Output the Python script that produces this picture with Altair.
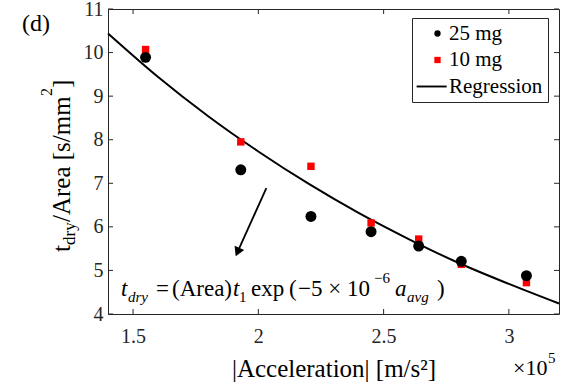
import altair as alt
import pandas as pd

FONT = "Liberation Serif"
AX = "#262626"

# ---- data ----
accel = [1.55, 1.93, 2.21, 2.45, 2.64, 2.81, 3.07]          # x 10^5 m/s^2
t_25mg = [9.89, 7.31, 6.24, 5.89, 5.56, 5.21, 4.88]
t_10mg = [10.07, 7.95, 7.39, 6.09, 5.72, 5.14, 4.72]
reg_x = [1.4, 1.6, 1.8, 2.0, 2.2, 2.4, 2.6, 2.8, 3.0, 3.2]
reg_y = [10.44, 9.44, 8.54, 7.73, 6.99, 6.32, 5.72, 5.17, 4.69, 4.24]
x_ticks = [1.5, 2, 2.5, 3]
y_ticks = [4, 5, 6, 7, 8, 9, 10, 11]
series = ["25 mg", "10 mg", "Regression"]

W, H = 451, 305
OX, OY = 108, 9   # plot origin on the page

xs = alt.Scale(domain=[1.4, 3.2], nice=False, zero=False)
ys = alt.Scale(domain=[4, 11], nice=False, zero=False)

df25 = pd.DataFrame({"a": accel, "t": t_25mg, "series": "25 mg"})
df10 = pd.DataFrame({"a": accel, "t": t_10mg, "series": "10 mg"})
dreg = pd.DataFrame({"a": reg_x, "t": reg_y})

legend = alt.Legend(
    title=None, orient="none", legendX=412 - OX, legendY=18 - OY,
    fillColor="white", strokeColor=AX, padding=5, symbolOffset=10,
    labelOffset=1, labelFont=FONT, labelFontSize=21, labelColor="black",
    symbolSize=40, rowPadding=4.5, symbolStrokeWidth=0,
)
color = alt.Color("series:N", scale=alt.Scale(domain=series, range=["black", "red", "black"]), legend=legend)
shape = alt.Shape("series:N", scale=alt.Scale(domain=series, range=["circle", "square", "M-6.6,-0.3H2.9V0.3H-6.6Z"]), legend=legend)

xenc = alt.X("a:Q", scale=xs, axis=alt.Axis(values=x_ticks, format="~g", title="|Acceleration| [m/s²]"))
yenc = alt.Y("t:Q", scale=ys, axis=alt.Axis(values=y_ticks, format="~g", title=None))

reg = alt.Chart(dreg).mark_line(color="black", strokeWidth=2, interpolate="monotone").encode(x=xenc, y=yenc)
pts10 = alt.Chart(df10).mark_point(filled=True, opacity=1, size=55).encode(x=xenc, y=yenc, color=color, shape=shape)
pts25 = alt.Chart(df25).mark_point(filled=True, opacity=1, size=120).encode(x=xenc, y=yenc, color=color, shape=shape)

# inward ticks on all four sides
dxt = pd.DataFrame({"v": x_ticks})
dyt = pd.DataFrame({"v": y_ticks})
tick_b = alt.Chart(dxt).mark_rule(color=AX).encode(x=alt.X("v:Q", scale=xs), y=alt.value(H), y2=alt.value(H - 5))
tick_t = alt.Chart(dxt).mark_rule(color=AX).encode(x=alt.X("v:Q", scale=xs), y=alt.value(0), y2=alt.value(5))
tick_l = alt.Chart(dyt).mark_rule(color=AX).encode(y=alt.Y("v:Q", scale=ys), x=alt.value(0), x2=alt.value(5))
tick_r = alt.Chart(dyt).mark_rule(color=AX).encode(y=alt.Y("v:Q", scale=ys), x=alt.value(W), x2=alt.value(W - 5))

one = pd.DataFrame({"k": [0]})


def txt(s, px, py, size, italic=False, angle=0, color="black"):
    kw = dict(text=s, align="left", baseline="alphabetic", font=FONT, fontSize=size, color=color)
    if italic:
        kw["fontStyle"] = "italic"
    if angle:
        kw["angle"] = angle
    return alt.Chart(one).mark_text(**kw).encode(x=alt.value(px - OX), y=alt.value(py - OY))


# arrow
arrow_line = alt.Chart(one).mark_rule(color="black", strokeWidth=1.8).encode(
    x=alt.datum(2.032), y=alt.datum(6.89), x2=alt.datum(1.919), y2=alt.datum(5.45))
arrow_head = alt.Chart(one).mark_point(shape="triangle-down", filled=True, opacity=1, size=110,
                                       angle=24, color="black").encode(x=alt.datum(1.917), y=alt.datum(5.42))

texts = [
    txt("(d)", 22, 31, 24),
    # formula
    txt("t", 121, 296, 23, italic=True),
    txt("dry", 128, 302, 15, italic=True),
    txt("=", 156, 296, 23),
    txt("(Area)", 172, 296, 23),
    txt("t", 233, 296, 23, italic=True),
    txt("1", 239, 302, 15),
    txt("exp", 251, 296, 23),
    txt("(", 289, 296, 23),
    txt("\u22125 \u00d7 10", 298, 296, 23),
    txt("\u22126", 374, 283, 15),
    txt("a", 395, 296, 23, italic=True),
    txt("avg", 407, 302, 15, italic=True),
    txt(")", 437, 296, 23),
    # y title (rotated)
    txt("t", 70, 252, 25, angle=270),
    txt("dry", 75, 245, 17, angle=270),
    txt("/Area [s/mm", 70, 222, 25, angle=270),
    txt("2", 52, 96, 16, angle=270),
    txt("]", 70, 88, 25, angle=270),
    # x multiplier
    txt("\u00d710", 513, 375, 22),
    txt("5", 548, 363, 15),
]

chart = alt.layer(
    tick_b, tick_t, tick_l, tick_r, reg, pts10, pts25, arrow_line, arrow_head, *texts
).properties(
    width=W, height=H,
    autosize=alt.AutoSizeParams(type="none"),
    padding={"left": OX, "top": OY, "right": 567 - OX - W, "bottom": 382 - OY - H},
    background="white",
).configure_view(
    stroke=AX, strokeWidth=1
).configure_axis(
    grid=False, ticks=False, domain=False,
    labelFont=FONT, labelFontSize=20, labelColor=AX,
    titleFont=FONT, titleFontSize=25, titleFontWeight="normal", titleColor="black",
).configure_axisX(
    labelPadding=12, titlePadding=10, labelFont=FONT,
).configure_axisY(
    labelPadding=5, labelFont=FONT,
)

chart.save("out.html", embed_options={"renderer": "svg", "actions": False})
